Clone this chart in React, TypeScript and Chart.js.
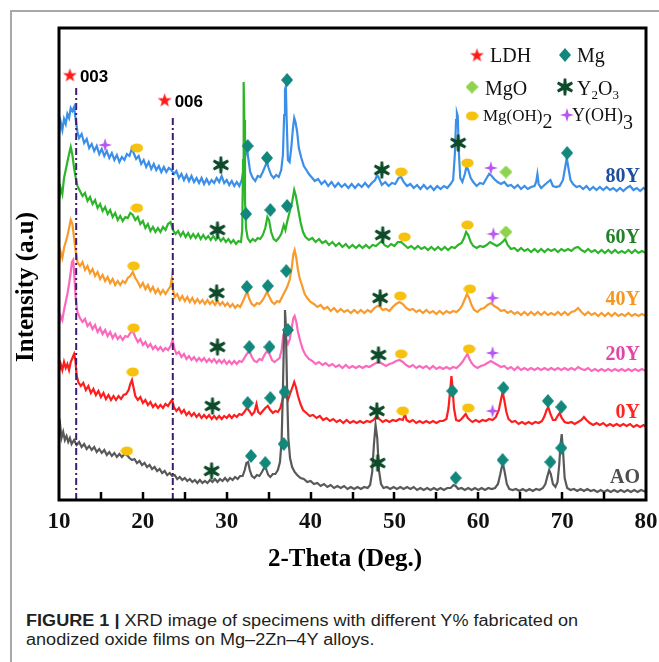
import { useEffect, useRef } from 'react';
import { Chart, registerables } from 'chart.js';

Chart.register(...registerables);

type Pt = [number, number];

// ---- axis ----
const thetaMin = 10;
const thetaMax = 80;
const thetaStep = 10;
const tickMarks = [15, 20, 25, 30, 35, 40, 45, 50, 55, 60, 65, 70, 75];
const intensityMax = 472;

// ---- scans (2θ, offset intensity in a.u.) ----
const scanAO: Pt[] = [
  [10, 66], [10.15, 74], [10.3, 62], [10.5, 68], [10.7, 60], [10.9, 64], [11.1, 58], [11.3, 62], [11.5, 56], [11.8, 60],
  [12.1, 55], [12.4, 58], [12.7, 53], [13, 56], [13.3, 51], [13.6, 54], [13.9, 50], [14.2, 53], [14.5, 48], [14.8, 51],
  [15.1, 47], [15.4, 50], [15.7, 45], [16, 48], [16.3, 44], [16.6, 47], [16.9, 43], [17.2, 46], [17.5, 43], [17.8, 46],
  [18.1, 45], [18.4, 42], [18.7, 40], [19, 41], [19.3, 37], [19.6, 39], [19.9, 35], [20.2, 37], [20.5, 33], [20.8, 35],
  [21.1, 31], [21.4, 33], [21.7, 29], [22, 31], [22.3, 27], [22.6, 29], [22.9, 25], [23.2, 27], [23.5, 24], [23.8, 25],
  [24.1, 21], [24.4, 23], [24.7, 20], [25, 22], [25.3, 19], [25.6, 21], [25.9, 18], [26.2, 20], [26.5, 17], [26.8, 20],
  [27.1, 17], [27.4, 19], [27.7, 17], [28, 20], [28.3, 18], [28.6, 21], [28.9, 18], [29.2, 21], [29.5, 19], [29.8, 22],
  [30.1, 19], [30.4, 22], [30.7, 20], [31, 23], [31.3, 21], [31.6, 24], [31.9, 24], [32.15, 30], [32.35, 37], [32.55, 38],
  [32.75, 30], [33, 24], [33.3, 22], [33.6, 25], [33.9, 24], [34.2, 28], [34.45, 32], [34.7, 31], [34.95, 25], [35.2, 23],
  [35.5, 26], [35.8, 26], [36.1, 30], [36.35, 38], [36.55, 60], [36.7, 110], [36.85, 170], [36.95, 190], [37.05, 175],
  [37.2, 110], [37.35, 62], [37.55, 42], [37.8, 33], [38.1, 28], [38.4, 25], [38.8, 22], [39.2, 21], [39.6, 18], [40, 19],
  [40.4, 16], [40.8, 17], [41.2, 14], [41.6, 16], [42, 13], [42.4, 15], [42.8, 12], [43.2, 14], [43.6, 12], [44, 14],
  [44.4, 11], [44.8, 13], [45.2, 11], [45.6, 13], [46, 11], [46.4, 13], [46.8, 12], [47.1, 15], [47.35, 28], [47.55, 55],
  [47.75, 75], [47.95, 62], [48.15, 30], [48.4, 16], [48.7, 12], [49.1, 13], [49.5, 11], [49.9, 13], [50.3, 11], [50.7, 13],
  [51.1, 11], [51.5, 13], [51.9, 11], [52.3, 13], [52.7, 10], [53.1, 12], [53.5, 10], [53.9, 12], [54.3, 10], [54.7, 12],
  [55.1, 10], [55.5, 12], [55.9, 10], [56.3, 12], [56.7, 12], [57.05, 15], [57.3, 14], [57.6, 11], [58, 12], [58.4, 10],
  [58.8, 12], [59.2, 10], [59.6, 12], [60, 10], [60.4, 12], [60.8, 10], [61.2, 12], [61.6, 11], [62, 12], [62.35, 16],
  [62.6, 25], [62.8, 33], [62.95, 36], [63.15, 28], [63.4, 16], [63.7, 11], [64.1, 10], [64.5, 11], [64.9, 9], [65.3, 11],
  [65.7, 9], [66.1, 11], [66.5, 9], [66.9, 11], [67.3, 10], [67.7, 12], [68, 16], [68.25, 24], [68.45, 30], [68.65, 26],
  [68.9, 16], [69.2, 13], [69.45, 18], [69.65, 35], [69.8, 55], [69.95, 66], [70.1, 50], [70.3, 22], [70.6, 12], [71, 10],
  [71.4, 11], [71.8, 9], [72.2, 11], [72.6, 9], [73, 11], [73.4, 9], [73.8, 10], [74.2, 8], [74.6, 10], [75, 8],
  [75.4, 10], [75.8, 8], [76.2, 10], [76.6, 8], [77, 10], [77.4, 8], [77.8, 10], [78.2, 8], [78.6, 10], [79, 8],
  [79.4, 10], [80, 8],
];

const scan0Y: Pt[] = [
  [10, 128], [10.2, 136], [10.4, 130], [10.6, 138], [10.8, 132], [11, 136], [11.2, 130], [11.4, 138], [11.6, 142], [11.8, 146],
  [11.95, 140], [12.1, 125], [12.3, 118], [12.6, 114], [12.9, 117], [13.2, 110], [13.5, 114], [13.8, 107], [14.1, 111], [14.4, 105],
  [14.7, 109], [15, 103], [15.3, 107], [15.6, 101], [15.9, 105], [16.2, 100], [16.5, 104], [16.8, 100], [17.1, 104], [17.4, 101],
  [17.7, 105], [18, 106], [18.3, 110], [18.5, 116], [18.7, 120], [18.9, 112], [19.1, 104], [19.4, 100], [19.7, 103], [20, 97],
  [20.3, 100], [20.6, 95], [20.9, 98], [21.2, 93], [21.5, 96], [21.8, 92], [22.1, 95], [22.4, 92], [22.7, 96], [23, 94],
  [23.3, 98], [23.5, 100], [23.7, 93], [24, 89], [24.3, 92], [24.6, 87], [24.9, 90], [25.2, 85], [25.5, 88], [25.8, 84],
  [26.1, 87], [26.4, 83], [26.7, 86], [27, 82], [27.3, 85], [27.6, 82], [27.9, 85], [28.2, 81], [28.5, 84], [28.8, 81],
  [29.1, 84], [29.4, 81], [29.7, 84], [30, 82], [30.3, 85], [30.6, 82], [30.9, 85], [31.2, 83], [31.5, 86], [31.8, 85],
  [32.1, 88], [32.4, 92], [32.7, 89], [33, 85], [33.3, 88], [33.55, 96], [33.75, 88], [34, 86], [34.3, 89], [34.6, 92],
  [34.9, 94], [35.2, 90], [35.5, 87], [35.8, 89], [36.1, 88], [36.4, 92], [36.65, 100], [36.85, 107], [37.05, 104], [37.3, 100],
  [37.55, 106], [37.8, 112], [38.05, 118], [38.25, 113], [38.5, 104], [38.8, 96], [39.1, 90], [39.5, 87], [39.9, 84], [40.3, 85],
  [40.7, 82], [41.1, 84], [41.5, 80], [41.9, 82], [42.3, 79], [42.7, 81], [43.1, 78], [43.5, 80], [43.9, 77], [44.3, 80],
  [44.7, 77], [45.1, 79], [45.5, 77], [45.9, 79], [46.3, 77], [46.7, 79], [47.1, 78], [47.5, 80], [47.9, 84], [48.2, 81],
  [48.6, 78], [49, 80], [49.4, 78], [49.8, 80], [50.2, 79], [50.6, 81], [51, 80], [51.25, 86], [51.45, 80], [51.8, 78],
  [52.2, 80], [52.6, 77], [53, 79], [53.4, 77], [53.8, 79], [54.2, 77], [54.6, 79], [55, 77], [55.4, 79], [55.8, 79],
  [56.2, 81], [56.45, 92], [56.65, 110], [56.8, 124], [56.95, 110], [57.1, 92], [57.35, 80], [57.7, 79], [58, 81], [58.3, 84],
  [58.5, 86], [58.75, 82], [59, 80], [59.3, 78], [59.7, 80], [60.1, 78], [60.5, 80], [60.9, 79], [61.3, 81], [61.7, 80],
  [62.1, 83], [62.45, 90], [62.7, 100], [62.9, 108], [63.1, 100], [63.35, 88], [63.6, 81], [64, 78], [64.4, 79], [64.8, 76],
  [65.2, 78], [65.6, 76], [66, 78], [66.4, 76], [66.8, 78], [67.2, 77], [67.6, 79], [67.9, 84], [68.15, 90], [68.35, 93],
  [68.6, 86], [68.9, 80], [69.2, 80], [69.45, 84], [69.7, 87], [69.95, 82], [70.3, 78], [70.7, 77], [71.1, 78], [71.5, 76],
  [71.9, 78], [72.3, 80], [72.6, 83], [72.9, 80], [73.3, 77], [73.7, 75], [74.1, 77], [74.5, 75], [74.9, 77], [75.3, 74],
  [75.7, 76], [76.1, 74], [76.5, 76], [76.9, 74], [77.3, 76], [77.7, 74], [78.1, 76], [78.5, 73], [78.9, 75], [79.3, 73],
  [79.7, 75], [80, 73],
];

const scan20Y: Pt[] = [
  [10, 176], [10.2, 184], [10.4, 180], [10.6, 190], [10.8, 198], [11, 206], [11.2, 216], [11.4, 228], [11.55, 238], [11.7, 240],
  [11.85, 222], [12, 200], [12.2, 188], [12.5, 182], [12.8, 178], [13.1, 181], [13.4, 174], [13.7, 177], [14, 171], [14.3, 175],
  [14.6, 168], [14.9, 172], [15.2, 166], [15.5, 170], [15.8, 164], [16.1, 168], [16.4, 162], [16.7, 166], [17, 161], [17.3, 164],
  [17.6, 160], [17.9, 164], [18.2, 163], [18.5, 167], [18.8, 169], [19.1, 163], [19.4, 158], [19.7, 161], [20, 155], [20.3, 158],
  [20.6, 153], [20.9, 156], [21.2, 151], [21.5, 154], [21.8, 150], [22.1, 153], [22.4, 149], [22.7, 152], [23, 150], [23.3, 154],
  [23.55, 160], [23.75, 152], [24, 146], [24.3, 148], [24.6, 143], [24.9, 146], [25.2, 141], [25.5, 144], [25.8, 140], [26.1, 143],
  [26.4, 139], [26.7, 142], [27, 139], [27.3, 142], [27.6, 138], [27.9, 141], [28.2, 138], [28.5, 141], [28.8, 137], [29.1, 140],
  [29.4, 137], [29.7, 140], [30, 136], [30.3, 139], [30.6, 136], [30.9, 139], [31.2, 136], [31.5, 139], [31.8, 138], [32.1, 142],
  [32.4, 146], [32.7, 149], [33, 143], [33.3, 139], [33.6, 138], [33.9, 141], [34.2, 140], [34.5, 145], [34.8, 149], [35.1, 146],
  [35.4, 140], [35.7, 138], [36, 140], [36.3, 142], [36.55, 150], [36.75, 165], [36.9, 168], [37.1, 160], [37.3, 156], [37.5, 160],
  [37.75, 172], [37.95, 182], [38.1, 184], [38.3, 178], [38.5, 168], [38.8, 158], [39.1, 150], [39.4, 145], [39.8, 141], [40.2, 139],
  [40.6, 136], [41, 138], [41.4, 135], [41.8, 137], [42.2, 134], [42.6, 136], [43, 133], [43.4, 135], [43.8, 132], [44.2, 135],
  [44.6, 132], [45, 134], [45.4, 132], [45.8, 134], [46.2, 132], [46.6, 134], [47, 133], [47.4, 135], [47.8, 137], [48.2, 138],
  [48.6, 136], [49, 134], [49.4, 136], [49.8, 137], [50.2, 139], [50.6, 140], [51, 138], [51.4, 135], [51.8, 133], [52.2, 135],
  [52.6, 132], [53, 134], [53.4, 132], [53.8, 134], [54.2, 131], [54.6, 134], [55, 131], [55.4, 133], [55.8, 131], [56.2, 133],
  [56.6, 131], [57, 133], [57.4, 132], [57.8, 135], [58.1, 138], [58.4, 142], [58.7, 146], [58.95, 141], [59.2, 137], [59.5, 134],
  [59.9, 132], [60.3, 134], [60.7, 135], [61.1, 137], [61.5, 139], [61.9, 137], [62.3, 135], [62.7, 133], [63.1, 134], [63.5, 131],
  [63.9, 133], [64.3, 130], [64.7, 133], [65.1, 130], [65.5, 132], [65.9, 130], [66.3, 132], [66.7, 130], [67.1, 132], [67.5, 130],
  [67.9, 132], [68.3, 130], [68.7, 132], [69.1, 130], [69.5, 132], [69.9, 130], [70.3, 132], [70.7, 130], [71.1, 132], [71.5, 130],
  [71.9, 133], [72.3, 131], [72.7, 130], [73.1, 132], [73.5, 129], [73.9, 131], [74.3, 129], [74.7, 131], [75.1, 129], [75.5, 131],
  [75.9, 129], [76.3, 131], [76.7, 129], [77.1, 131], [77.5, 129], [77.9, 131], [78.3, 129], [78.7, 131], [79.1, 129], [79.5, 131],
  [80, 129],
];

const scan40Y: Pt[] = [
  [10, 236], [10.2, 248], [10.4, 242], [10.6, 252], [10.8, 258], [11, 264], [11.2, 272], [11.4, 280], [11.6, 276], [11.8, 262],
  [12, 248], [12.2, 238], [12.5, 234], [12.8, 238], [13.1, 230], [13.4, 234], [13.7, 227], [14, 231], [14.3, 224], [14.6, 228],
  [14.9, 221], [15.2, 225], [15.5, 219], [15.8, 223], [16.1, 217], [16.4, 221], [16.7, 215], [17, 219], [17.3, 215], [17.6, 219],
  [17.9, 217], [18.2, 222], [18.5, 224], [18.8, 228], [19.1, 222], [19.4, 218], [19.7, 213], [20, 217], [20.3, 211], [20.6, 215],
  [20.9, 209], [21.2, 213], [21.5, 207], [21.8, 211], [22.1, 206], [22.4, 210], [22.7, 206], [23, 210], [23.3, 214], [23.45, 222],
  [23.6, 210], [23.8, 203], [24.1, 206], [24.4, 200], [24.7, 204], [25, 199], [25.3, 203], [25.6, 198], [25.9, 202], [26.2, 197],
  [26.5, 201], [26.8, 197], [27.1, 200], [27.4, 196], [27.7, 200], [28, 196], [28.3, 199], [28.6, 195], [28.9, 199], [29.2, 195],
  [29.5, 198], [29.8, 194], [30.1, 197], [30.4, 193], [30.7, 196], [31, 192], [31.3, 195], [31.6, 193], [31.9, 198], [32.2, 204],
  [32.45, 208], [32.7, 201], [33, 196], [33.3, 194], [33.6, 197], [33.9, 196], [34.2, 199], [34.5, 203], [34.8, 208], [35.1, 203],
  [35.4, 198], [35.7, 196], [36, 199], [36.3, 198], [36.6, 203], [36.9, 208], [37.2, 213], [37.5, 220], [37.75, 232], [37.95, 246],
  [38.1, 250], [38.3, 242], [38.5, 230], [38.7, 222], [39, 214], [39.3, 206], [39.6, 202], [40, 198], [40.4, 196], [40.8, 193],
  [41.2, 195], [41.6, 191], [42, 193], [42.4, 189], [42.8, 192], [43.2, 188], [43.6, 191], [44, 188], [44.4, 190], [44.8, 187],
  [45.2, 190], [45.6, 187], [46, 190], [46.4, 187], [46.8, 190], [47.2, 188], [47.6, 192], [48, 194], [48.3, 193], [48.6, 190],
  [49, 191], [49.4, 189], [49.8, 193], [50.2, 196], [50.6, 198], [51, 196], [51.4, 192], [51.8, 190], [52.2, 191], [52.6, 188],
  [53, 190], [53.4, 187], [53.8, 190], [54.2, 187], [54.6, 189], [55, 186], [55.4, 189], [55.8, 186], [56.2, 189], [56.6, 187],
  [57, 189], [57.4, 188], [57.8, 191], [58.1, 195], [58.4, 201], [58.65, 206], [58.9, 202], [59.2, 195], [59.5, 190], [59.9, 188],
  [60.3, 191], [60.7, 192], [61.1, 195], [61.5, 197], [61.9, 194], [62.3, 192], [62.7, 189], [63.1, 190], [63.5, 187], [63.9, 189],
  [64.3, 186], [64.7, 188], [65.1, 185], [65.5, 188], [65.9, 185], [66.3, 188], [66.7, 185], [67.1, 188], [67.5, 185], [67.9, 188],
  [68.3, 185], [68.7, 187], [69.1, 185], [69.5, 188], [69.9, 185], [70.3, 188], [70.7, 185], [71.1, 188], [71.5, 189], [71.9, 192],
  [72.3, 188], [72.7, 185], [73.1, 188], [73.5, 185], [73.9, 187], [74.3, 184], [74.7, 187], [75.1, 184], [75.5, 187], [75.9, 184],
  [76.3, 187], [76.7, 184], [77.1, 186], [77.5, 184], [77.9, 187], [78.3, 184], [78.7, 186], [79.1, 184], [79.5, 186], [80, 184],
];

const scan60Y: Pt[] = [
  [10, 300], [10.2, 312], [10.4, 306], [10.6, 322], [10.8, 330], [11, 338], [11.2, 346], [11.4, 353], [11.6, 345], [11.8, 332],
  [12, 322], [12.2, 314], [12.5, 309], [12.8, 304], [13.1, 307], [13.4, 299], [13.7, 303], [14, 296], [14.3, 300], [14.6, 292],
  [14.9, 296], [15.2, 289], [15.5, 293], [15.8, 286], [16.1, 290], [16.4, 283], [16.7, 287], [17, 280], [17.3, 284], [17.6, 279],
  [17.9, 283], [18.2, 282], [18.5, 287], [18.8, 285], [19.1, 280], [19.4, 283], [19.7, 276], [20, 279], [20.3, 272], [20.6, 276],
  [20.9, 269], [21.2, 273], [21.5, 268], [21.8, 272], [22.1, 268], [22.4, 273], [22.7, 270], [23, 276], [23.3, 278], [23.6, 270],
  [23.9, 266], [24.2, 269], [24.5, 264], [24.8, 268], [25.1, 263], [25.4, 267], [25.7, 262], [26, 266], [26.3, 262], [26.6, 266],
  [26.9, 261], [27.2, 265], [27.5, 261], [27.8, 264], [28.1, 260], [28.4, 264], [28.7, 260], [29, 263], [29.3, 259], [29.6, 262],
  [29.9, 258], [30.2, 261], [30.5, 257], [30.8, 260], [31.1, 256], [31.4, 259], [31.7, 258], [31.85, 270], [31.95, 340], [32.02, 418],
  [32.1, 380], [32.18, 300], [32.3, 272], [32.5, 262], [32.8, 258], [33.1, 261], [33.4, 259], [33.7, 262], [34, 261], [34.3, 265],
  [34.6, 272], [34.85, 283], [35.05, 280], [35.3, 268], [35.6, 261], [35.9, 259], [36.2, 262], [36.5, 266], [36.8, 275], [37, 270],
  [37.2, 278], [37.5, 288], [37.8, 298], [38.05, 310], [38.25, 304], [38.5, 292], [38.8, 278], [39.1, 268], [39.4, 263], [39.8, 260],
  [40.2, 262], [40.6, 258], [41, 261], [41.4, 257], [41.8, 259], [42.2, 255], [42.6, 258], [43, 254], [43.4, 257], [43.8, 253],
  [44.2, 256], [44.6, 252], [45, 255], [45.4, 252], [45.8, 255], [46.2, 252], [46.6, 255], [47, 252], [47.4, 255], [47.8, 254],
  [48.2, 257], [48.5, 259], [48.8, 255], [49.2, 253], [49.6, 256], [50, 254], [50.4, 258], [50.8, 258], [51.2, 255], [51.6, 252],
  [52, 254], [52.4, 251], [52.8, 254], [53.2, 251], [53.6, 253], [54, 250], [54.4, 253], [54.8, 250], [55.2, 253], [55.6, 250],
  [56, 253], [56.4, 250], [56.8, 253], [57.2, 252], [57.6, 255], [58, 257], [58.3, 262], [58.55, 268], [58.8, 265], [59.1, 258],
  [59.4, 254], [59.8, 252], [60.2, 254], [60.6, 253], [61, 255], [61.4, 258], [61.8, 256], [62.2, 254], [62.6, 256], [63, 259],
  [63.2, 261], [63.5, 255], [63.9, 251], [64.3, 252], [64.7, 249], [65.1, 252], [65.5, 249], [65.9, 251], [66.3, 248], [66.7, 251],
  [67.1, 248], [67.5, 251], [67.9, 248], [68.3, 251], [68.7, 249], [69.1, 251], [69.5, 248], [69.9, 251], [70.3, 249], [70.7, 251],
  [71.1, 249], [71.5, 252], [71.9, 253], [72.3, 250], [72.7, 248], [73.1, 251], [73.5, 248], [73.9, 250], [74.3, 247], [74.7, 250],
  [75.1, 247], [75.5, 250], [75.9, 247], [76.3, 250], [76.7, 247], [77.1, 249], [77.5, 247], [77.9, 250], [78.3, 247], [78.7, 250],
  [79.1, 247], [79.5, 249], [80, 247],
];

const scan80Y: Pt[] = [
  [10, 366], [10.2, 378], [10.4, 370], [10.6, 381], [10.8, 376], [11, 386], [11.2, 382], [11.4, 392], [11.6, 389], [11.8, 393],
  [12, 380], [12.2, 368], [12.4, 362], [12.7, 366], [13, 357], [13.3, 361], [13.6, 352], [13.9, 356], [14.2, 349], [14.5, 354],
  [14.8, 346], [15.1, 351], [15.4, 344], [15.7, 349], [16, 342], [16.3, 347], [16.6, 340], [16.9, 345], [17.2, 338], [17.5, 343],
  [17.8, 340], [18.1, 346], [18.4, 344], [18.7, 352], [18.9, 347], [19.2, 341], [19.5, 344], [19.8, 336], [20.1, 340], [20.4, 333],
  [20.7, 338], [21, 331], [21.3, 336], [21.6, 330], [21.9, 334], [22.2, 328], [22.5, 333], [22.8, 328], [23.1, 332], [23.4, 330],
  [23.7, 326], [24, 329], [24.3, 322], [24.6, 326], [24.9, 320], [25.2, 325], [25.5, 319], [25.8, 324], [26.1, 318], [26.4, 322],
  [26.7, 317], [27, 322], [27.3, 316], [27.6, 321], [27.9, 316], [28.2, 320], [28.5, 317], [28.8, 322], [29.1, 318], [29.4, 324],
  [29.7, 317], [30, 320], [30.3, 315], [30.6, 319], [30.9, 314], [31.2, 318], [31.5, 314], [31.8, 320], [32, 330], [32.2, 344],
  [32.4, 352], [32.6, 340], [32.8, 328], [33.1, 322], [33.4, 319], [33.7, 324], [34, 323], [34.3, 328], [34.6, 334], [34.8, 338],
  [35, 332], [35.3, 325], [35.6, 322], [35.9, 325], [36.2, 323], [36.5, 330], [36.7, 345], [36.85, 385], [36.95, 410], [37.05, 414],
  [37.15, 380], [37.3, 340], [37.5, 338], [37.7, 352], [37.9, 372], [38.05, 382], [38.2, 378], [38.4, 368], [38.6, 352], [38.9, 342],
  [39.2, 334], [39.5, 330], [39.8, 326], [40.1, 323], [40.5, 319], [40.9, 321], [41.3, 316], [41.7, 319], [42.1, 314], [42.5, 318],
  [42.9, 313], [43.3, 317], [43.7, 313], [44.1, 316], [44.5, 312], [44.9, 316], [45.3, 312], [45.7, 316], [46.1, 313], [46.5, 317],
  [46.9, 313], [47.3, 317], [47.7, 320], [47.95, 325], [48.2, 321], [48.5, 315], [48.9, 318], [49.3, 314], [49.7, 317], [50.1, 316],
  [50.5, 322], [50.8, 323], [51.1, 318], [51.5, 314], [51.9, 316], [52.3, 312], [52.7, 315], [53.1, 311], [53.5, 315], [53.9, 311],
  [54.3, 314], [54.7, 310], [55.1, 314], [55.5, 311], [55.9, 314], [56.3, 312], [56.7, 316], [57, 320], [57.2, 345], [57.35, 380],
  [57.45, 387], [57.55, 384], [57.7, 345], [57.85, 322], [58.1, 318], [58.4, 326], [58.6, 334], [58.8, 330], [59.1, 322], [59.4, 318],
  [59.8, 314], [60.2, 317], [60.6, 316], [61, 322], [61.3, 326], [61.6, 324], [61.9, 321], [62.3, 318], [62.7, 316], [63.1, 318],
  [63.5, 314], [63.9, 315], [64.3, 312], [64.7, 315], [65.1, 311], [65.5, 314], [65.9, 311], [66.3, 313], [66.7, 314], [66.9, 318],
  [67.05, 326], [67.2, 316], [67.5, 312], [67.9, 315], [68.3, 318], [68.6, 320], [68.9, 314], [69.3, 313], [69.7, 314], [70.1, 320],
  [70.35, 332], [70.55, 342], [70.75, 332], [71, 320], [71.3, 316], [71.7, 313], [72.1, 314], [72.5, 311], [72.9, 314], [73.3, 310],
  [73.7, 313], [74.1, 310], [74.5, 313], [74.9, 310], [75.3, 313], [75.7, 310], [76.1, 312], [76.5, 309], [76.9, 312], [77.3, 309],
  [77.7, 312], [78.1, 314], [78.5, 310], [78.9, 312], [79.3, 309], [79.7, 312], [80, 310],
];

const sampleNames = ['AO', '0Y', '20Y', '40Y', '60Y', '80Y'];
const scans = [scanAO, scan0Y, scan20Y, scan40Y, scan60Y, scan80Y];

// ---- phase identification marks (2θ, intensity) ----
const phaseNames = ['LDH', 'Mg', 'MgO', 'Y2O3', 'Mg(OH)2', 'Y(OH)3'];
const marksLDH: Pt[] = [[11.3, 425], [22.6, 400]];
const ldhIndices = ['003', '006'];
const marksMg: Pt[] = [
  [32.5, 354], [34.8, 342], [37.2, 420], [70.6, 347],
  [32.3, 286], [35.2, 290], [37.2, 294],
  [32.4, 213], [34.9, 214], [37.1, 229],
  [32.7, 153], [35.1, 153], [37.3, 170],
  [32.5, 97], [35.2, 102], [36.9, 108], [56.9, 109], [63.0, 112], [68.3, 99], [69.9, 93],
  [32.9, 44], [34.6, 37], [36.8, 56], [57.3, 22], [62.9, 40], [68.6, 38], [69.9, 52],
];
const marksMgO: Pt[] = [[63.3, 328], [63.3, 268]];
const marksY2O3: Pt[] = [
  [29.3, 335], [48.5, 330], [57.6, 357],
  [28.9, 270], [48.6, 265],
  [28.8, 207], [48.3, 202],
  [28.9, 153], [48.1, 145],
  [28.3, 94], [47.9, 89],
  [28.2, 29], [48.0, 37],
];
const marksMgOH2: Pt[] = [
  [19.3, 352], [50.8, 328], [58.7, 337],
  [19.3, 292], [51.2, 263], [58.7, 275],
  [18.9, 234], [50.7, 204], [59.0, 211],
  [18.9, 172], [50.8, 146], [58.9, 151],
  [18.8, 128], [51.0, 89], [58.8, 92],
  [18.1, 49],
];
const marksYOH3: Pt[] = [[15.5, 355], [61.5, 332], [61.8, 266], [61.7, 202], [61.7, 147], [61.7, 89]];

// LDH basal reflections (dash-dot guides)
const guide003: Pt[] = [[12.05, 0], [12.05, 414]];
const guide006: Pt[] = [[23.57, 0], [23.57, 385]];

// ---- styling ----
const curveColors = ['#595959', '#fe1e1e', '#fb69bd', '#f99a2c', '#2db52a', '#3b8fe8'];
const nameColors = ['#4d4d4d', '#ff2424', '#e345a6', '#f7961f', '#23802a', '#1f4e9e'];
const nameBaselines = [483, 418, 360, 305, 243, 182];
const nameRight = 640;
const serif = '"Liberation Serif", "Times New Roman", serif';
const sans = '"Liberation Sans", Arial, sans-serif';

type Part = { text: string; size: number; dy?: number };
const keyLayout: { sx: number; sy: number; tx: number; base: number; parts: Part[] }[] = [
  { sx: 477, sy: 55, tx: 490, base: 62, parts: [{ text: 'LDH', size: 20 }] },
  { sx: 565, sy: 55, tx: 577, base: 62, parts: [{ text: 'Mg', size: 20 }] },
  { sx: 472, sy: 87, tx: 485, base: 95, parts: [{ text: 'MgO', size: 20 }] },
  {
    sx: 565, sy: 87, tx: 577, base: 95,
    parts: [{ text: 'Y', size: 20 }, { text: '2', size: 13, dy: 4 }, { text: 'O', size: 20 }, { text: '3', size: 13, dy: 4 }],
  },
  { sx: 472, sy: 116, tx: 483, base: 121, parts: [{ text: 'Mg(OH)', size: 17 }, { text: '2', size: 20, dy: 7 }] },
  { sx: 567, sy: 115, tx: 572, base: 121, parts: [{ text: 'Y(OH)', size: 18 }, { text: '3', size: 20, dy: 8 }] },
];

function makeGlyph(w: number, h: number, paint: (g: CanvasRenderingContext2D) => void) {
  const c = document.createElement('canvas');
  c.width = w;
  c.height = h;
  paint(c.getContext('2d')!);
  return c;
}

function buildGlyphs() {
  const star5 = makeGlyph(15, 15, (g) => {
    g.fillStyle = '#ff1a1a';
    g.beginPath();
    for (let i = 0; i < 10; i++) {
      const r = i % 2 === 0 ? 7.3 : 2.9;
      const a = -Math.PI / 2 + (i * Math.PI) / 5;
      const px = 7.5 + r * Math.cos(a);
      const py = 8 + r * Math.sin(a);
      if (i === 0) g.moveTo(px, py); else g.lineTo(px, py);
    }
    g.closePath();
    g.fill();
  });
  const diamond = (w: number, h: number, fill: string) =>
    makeGlyph(w, h, (g) => {
      g.fillStyle = fill;
      g.beginPath();
      g.moveTo(w / 2, 0);
      g.lineTo(w, h / 2);
      g.lineTo(w / 2, h);
      g.lineTo(0, h / 2);
      g.closePath();
      g.fill();
    });
  const asterisk = makeGlyph(18, 18, (g) => {
    g.fillStyle = '#0d4b2a';
    for (let k = 0; k < 6; k++) {
      const a = -Math.PI / 2 + (k * Math.PI) / 3;
      const ca = Math.cos(a), sa = Math.sin(a);
      const nx = -sa, ny = ca;
      g.beginPath();
      g.moveTo(9 + nx * 1.9, 9 + ny * 1.9);
      g.lineTo(9 + ca * 8.5 + nx * 1.3, 9 + sa * 8.5 + ny * 1.3);
      g.lineTo(9 + ca * 8.5 - nx * 1.3, 9 + sa * 8.5 - ny * 1.3);
      g.lineTo(9 - nx * 1.9, 9 - ny * 1.9);
      g.closePath();
      g.fill();
    }
    g.beginPath();
    g.arc(9, 9, 2.4, 0, Math.PI * 2);
    g.fill();
  });
  const oval = makeGlyph(13, 10, (g) => {
    g.fillStyle = '#f6c20f';
    g.beginPath();
    g.ellipse(6.5, 5, 6.2, 4.6, 0, 0, Math.PI * 2);
    g.fill();
  });
  const sparkle = makeGlyph(14, 14, (g) => {
    g.fillStyle = '#b955f2';
    const c = 7, k = 1.6;
    g.beginPath();
    g.moveTo(c, 0);
    g.lineTo(c + k, c - k);
    g.lineTo(14, c);
    g.lineTo(c + k, c + k);
    g.lineTo(c, 14);
    g.lineTo(c - k, c + k);
    g.lineTo(0, c);
    g.lineTo(c - k, c - k);
    g.closePath();
    g.fill();
  });
  return {
    LDH: star5,
    Mg: diamond(12, 14, '#12877c'),
    MgO: diamond(13, 13, '#8ed24d'),
    Y2O3: asterisk,
    'Mg(OH)2': oval,
    'Y(OH)3': sparkle,
  } as Record<string, HTMLCanvasElement>;
}

const toXY = (pts: Pt[]) => pts.map(([x, y]) => ({ x, y }));

function drawParts(ctx: CanvasRenderingContext2D, x: number, base: number, parts: Part[], weight: string, family: string) {
  let cx = x;
  for (const p of parts) {
    ctx.font = `${weight} ${p.size}px ${family}`;
    ctx.fillText(p.text, cx, base + (p.dy || 0));
    cx += ctx.measureText(p.text).width;
  }
}

export default function App() {
  const canvasRef = useRef<HTMLCanvasElement>(null);

  useEffect(() => {
    const canvas = canvasRef.current;
    if (!canvas) return;
    const glyphs = buildGlyphs();
    const markSets: Pt[][] = [marksLDH, marksMg, marksMgO, marksY2O3, marksMgOH2, marksYOH3];

    const markDatasets = phaseNames.map((name, i) => ({
      label: name,
      data: toXY(markSets[i]),
      showLine: false,
      pointStyle: glyphs[name],
      pointRadius: 6,
      pointHoverRadius: 6,
      clip: false as const,
    }));

    const guideDatasets = [guide003, guide006].map((g, i) => ({
      label: ldhIndices[i],
      data: toXY(g),
      showLine: true,
      borderColor: '#3a1d6e',
      borderWidth: 2,
      borderDash: [7, 3, 2, 3],
      pointRadius: 0,
    }));

    const scanDatasets = scans.map((s, i) => ({
      label: sampleNames[i],
      data: toXY(s),
      showLine: true,
      borderColor: curveColors[i],
      borderWidth: 2.2,
      pointRadius: 0,
      tension: 0,
    }));

    const decor = {
      id: 'xrdDecor',
      afterDatasetsDraw(chart: any) {
        const { ctx, chartArea: a, scales } = chart;
        const xs = scales.x;
        const ys = scales.y;
        ctx.save();

        // plot frame and inward ticks
        ctx.strokeStyle = '#000';
        ctx.lineWidth = 3;
        ctx.strokeRect(a.left, a.top, a.right - a.left, a.bottom - a.top);
        ctx.lineWidth = 2.5;
        ctx.beginPath();
        for (const t of tickMarks) {
          const px = Math.round(xs.getPixelForValue(t));
          ctx.moveTo(px, a.bottom);
          ctx.lineTo(px, a.bottom - 8);
        }
        ctx.stroke();

        // sample names
        ctx.textAlign = 'right';
        ctx.textBaseline = 'alphabetic';
        ctx.font = `bold 20px ${serif}`;
        sampleNames.forEach((n, i) => {
          ctx.fillStyle = nameColors[i];
          ctx.fillText(n, nameRight, nameBaselines[i]);
        });

        // LDH reflection indices beside their stars
        ctx.textAlign = 'left';
        ctx.fillStyle = '#000';
        ctx.font = `bold 17px ${sans}`;
        marksLDH.forEach(([t, v], i) => {
          const px = xs.getPixelForValue(t);
          const py = ys.getPixelForValue(v);
          ctx.fillText(ldhIndices[i], px + 10, py + 7);
        });

        // phase key
        ctx.fillStyle = '#111';
        keyLayout.forEach((k, i) => {
          const gl = glyphs[phaseNames[i]];
          ctx.drawImage(gl, k.sx - gl.width / 2, k.sy - gl.height / 2);
          drawParts(ctx, k.tx, k.base, k.parts, 'normal', serif);
        });

        // axis titles
        ctx.fillStyle = '#000';
        ctx.font = `bold 25px ${serif}`;
        ctx.textAlign = 'left';
        ctx.fillText('2-Theta (Deg.)', 268, 566);
        ctx.translate(33, 287);
        ctx.rotate(-Math.PI / 2);
        ctx.textAlign = 'center';
        ctx.fillText('Intensity (a.u)', 0, 0);
        ctx.restore();
      },
    };

    const chart = new Chart(canvas, {
      type: 'scatter',
      data: { datasets: [...markDatasets, ...guideDatasets, ...scanDatasets] as any },
      options: {
        animation: false,
        responsive: false,
        maintainAspectRatio: false,
        devicePixelRatio: 1,
        events: [],
        layout: { padding: { top: 28, right: 13, left: 0, bottom: 0 } },
        plugins: { legend: { display: false }, tooltip: { enabled: false } },
        scales: {
          x: {
            type: 'linear',
            min: thetaMin,
            max: thetaMax,
            afterFit(s: any) {
              s.height = 80;
              s.paddingLeft = 0;
              s.paddingRight = 0;
            },
            ticks: {
              stepSize: thetaStep,
              padding: 8,
              color: '#111',
              font: { family: serif, weight: 'bold', size: 23 },
            },
            grid: { display: false, drawTicks: false },
            border: { display: false },
          },
          y: {
            type: 'linear',
            min: 0,
            max: intensityMax,
            afterFit(s: any) {
              s.width = 59;
            },
            ticks: { display: false },
            grid: { display: false, drawTicks: false },
            border: { display: false },
          },
        },
      },
      plugins: [decor],
    });
    return () => chart.destroy();
  }, []);

  return (
    <div style={{ position: 'absolute', left: 0, top: 0, width: 659, height: 662, background: '#fff', overflow: 'hidden' }}>
      <div style={{ position: 'absolute', left: 10, top: 10, width: 649, height: 2, background: '#a8a8a8' }} />
      <div style={{ position: 'absolute', left: 10, top: 10, width: 2, height: 652, background: '#a8a8a8' }} />
      <canvas
        ref={canvasRef}
        width={659}
        height={580}
        style={{ position: 'absolute', left: 0, top: 0, width: 659, height: 580 }}
      />
      <div
        style={{
          position: 'absolute',
          left: 26,
          top: 612,
          fontFamily: sans,
          fontSize: 16,
          lineHeight: '18.5px',
          color: '#231f20',
          whiteSpace: 'nowrap',
          transform: 'scaleX(1.13)',
          transformOrigin: 'left top',
        }}
      >
        <div>
          <b>FIGURE 1 |</b> XRD image of specimens with different Y% fabricated on
        </div>
        <div>anodized oxide films on Mg–2Zn–4Y alloys.</div>
      </div>
    </div>
  );
}
